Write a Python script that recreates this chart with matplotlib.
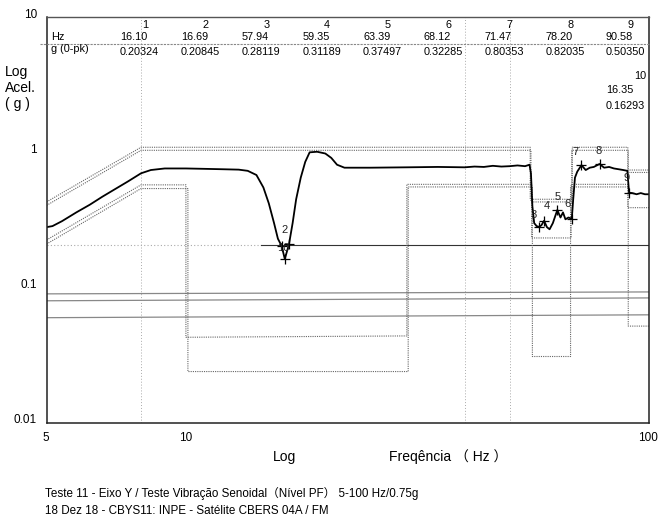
import numpy as np
import matplotlib
matplotlib.use("Agg")
import matplotlib.pyplot as plt

plt.rcParams['font.family'] = ['Liberation Sans', 'DejaVu Sans', 'Noto Sans CJK SC']

# response curve (Hz, g)
resp_hz = [5.0, 5.15, 5.4, 5.8, 6.2, 6.6, 7.0, 7.5, 8.0, 8.4, 9.0, 10.0, 11.0, 12.0, 13.0,
           13.6, 14.2, 14.7, 15.1, 15.5, 15.8, 16.1, 16.35, 16.69, 17.0, 17.3, 17.7, 18.1,
           18.5, 19.2, 20.0, 20.6, 21.2, 22.0, 25.0, 30.0, 35.0, 40.0, 42.0, 44.0, 46.0,
           48.0, 50.0, 52.0, 54.0, 55.2, 55.6, 56.0, 56.5, 57.2, 57.94, 58.6, 59.35, 60.2,
           61.0, 62.0, 63.39, 64.4, 65.2, 66.0, 67.0, 68.12, 68.6, 69.2, 70.0, 71.47, 73.0,
           74.5, 76.0, 78.2, 80.0, 82.0, 84.0, 86.0, 88.0, 89.8, 90.2, 90.58, 92.0, 94.0,
           96.0, 98.0, 100.0]
resp_g = [0.28, 0.285, 0.31, 0.36, 0.41, 0.47, 0.53, 0.61, 0.70, 0.74, 0.76, 0.76, 0.755, 0.75, 0.745,
          0.73, 0.68, 0.55, 0.42, 0.30, 0.23, 0.203, 0.163, 0.208, 0.30, 0.45, 0.65, 0.85,
          1.0, 1.01, 0.98, 0.91, 0.81, 0.77, 0.77, 0.775, 0.78, 0.775, 0.785, 0.78, 0.795,
          0.785, 0.79, 0.80, 0.79, 0.81, 0.70, 0.40, 0.30, 0.285, 0.281, 0.29, 0.312, 0.28,
          0.27, 0.30, 0.375, 0.33, 0.36, 0.32, 0.33, 0.323, 0.45, 0.65, 0.72, 0.804, 0.74,
          0.77, 0.78, 0.82, 0.77, 0.78, 0.76, 0.75, 0.74, 0.73, 0.60, 0.5035, 0.50, 0.49,
          0.50, 0.49, 0.49]

# tolerance profiles (Hz, g)
upper_hi_hz = [5, 8, 55.4, 55.4, 68.3, 68.3, 90, 90, 100]
upper_hi_g = [0.43, 1.09, 1.09, 0.45, 0.45, 1.09, 1.09, 0.74, 0.74]
upper_lo_hz = [5, 8, 55.6, 55.6, 68.1, 68.1, 90.2, 90.2, 100]
upper_lo_g = [0.405, 1.035, 1.035, 0.43, 0.43, 1.035, 1.035, 0.71, 0.71]
lower_hi_hz = [5, 8, 10, 10, 30, 30, 55.8, 55.8, 67.9, 67.9, 90, 90, 100]
lower_hi_g = [0.225, 0.575, 0.575, 0.043, 0.044, 0.58, 0.58, 0.233, 0.233, 0.58, 0.58, 0.39, 0.39]
lower_lo_hz = [5, 8, 10.1, 10.1, 30.2, 30.2, 56.0, 56.0, 67.7, 67.7, 90.2, 90.2, 100]
lower_lo_g = [0.21, 0.54, 0.54, 0.024, 0.024, 0.555, 0.555, 0.031, 0.031, 0.555, 0.555, 0.052, 0.052]

# straight reference lines (g at 5 Hz, g at 100 Hz)
ref_lines = [(0.090, 0.093), (0.080, 0.084), (0.060, 0.063)]
ref_020 = 0.205

grid_hz = [8, 40, 50]

# markers
marker_no = [1, 2, 3, 4, 5, 6, 7, 8, 9, 10]
marker_hz = [16.10, 16.69, 57.94, 59.35, 63.39, 68.12, 71.47, 78.20, 90.58, 16.35]
marker_g = [0.20324, 0.20845, 0.28119, 0.31189, 0.37497, 0.32285, 0.80353, 0.82035, 0.50350, 0.16293]

W, H = 669, 520
fig = plt.figure(figsize=(W / 100, H / 100), dpi=100)
fig.patch.set_facecolor('white')


def fx(x):
    return x / W


def fy(y):
    return 1 - y / H


ax = fig.add_axes([fx(46.5), fy(423), fx(649 - 46.5), (423 - 17) / H])
ax.set_xscale('log')
ax.set_yscale('log')
ax.set_xlim(5, 100)
ax.set_ylim(0.01, 10)
ax.set_xticks([])
ax.set_yticks([])
ax.minorticks_off()
ax.tick_params(which='both', length=0)
for s in ['left', 'bottom', 'right']:
    ax.spines[s].set_color('#222222')
    ax.spines[s].set_linewidth(1.1)
ax.spines['top'].set_color('#555555')
ax.spines['top'].set_linewidth(1.0)

# faint grid
for g in grid_hz:
    ax.axvline(g, color='#aaaaaa', lw=0.7, ls=(0, (1, 2)))

# reference lines
for a, b in ref_lines:
    ax.plot([5, 100], [a, b], color='#888888', lw=0.9)
ax.plot([5, 14.5], [ref_020, ref_020], color='#aaaaaa', lw=0.8, ls=(0, (1, 2)))
ax.plot([14.5, 100], [ref_020, ref_020], color='#333333', lw=0.8)

# tolerance profiles
for hz, g in [(upper_hi_hz, upper_hi_g), (upper_lo_hz, upper_lo_g),
              (lower_hi_hz, lower_hi_g), (lower_lo_hz, lower_lo_g)]:
    ax.plot(hz, g, color='#666666', lw=0.8, ls=(0, (1, 1)))

# response
ax.plot(resp_hz, resp_g, color='black', lw=1.3)

# markers
ax.plot(marker_hz, marker_g, ls='none', marker='+', ms=7, mew=0.9, color='black')
lab_off = {2: (-3, 7), 3: (-4, 5), 4: (2, 7), 5: (0, 6), 6: (-3, 7), 7: (-4, 6),
           8: (-1, 6), 9: (-2, 7), 10: (-1, 4)}
for n, h, g in zip(marker_no, marker_hz, marker_g):
    if n in lab_off:
        ax.annotate(str(n), (h, g), xytext=lab_off[n], textcoords='offset points',
                    ha='center', va='bottom', fontsize=8, color='#222222')

# table inside the plot
fig.add_artist(plt.Line2D([fx(40), fx(649)], [fy(44), fy(44)], color='#888888',
                          lw=0.8, ls=(0, (2, 1))))
fs_tab = 7.8
fig.text(fx(51), fy(37), 'Hz', fontsize=fs_tab, va='center')
fig.text(fx(51), fy(49), 'g (0-pk)', fontsize=fs_tab, va='center')
for i in range(9):
    x0 = 120 + 60.75 * i
    fig.text(fx(x0 + 28), fy(25), str(marker_no[i]), fontsize=fs_tab, va='center', ha='right')
    fig.text(fx(x0), fy(37), f'{marker_hz[i]:.2f}', fontsize=fs_tab, va='center')
    fig.text(fx(x0), fy(52), f'{marker_g[i]:.5f}', fontsize=fs_tab, va='center')
fig.text(fx(646), fy(76), str(marker_no[9]), fontsize=fs_tab, va='center', ha='right')
fig.text(fx(606), fy(90), f'{marker_hz[9]:.2f}', fontsize=fs_tab, va='center')
fig.text(fx(606), fy(106), f'{marker_g[9]:.5f}', fontsize=fs_tab, va='center')

# axis labels
for lab, y in [('10', 15), ('1', 150), ('0.1', 285), ('0.01', 420)]:
    fig.text(fx(37), fy(y), lab, fontsize=8.5, ha='right', va='center')
for lab, x in [('5', 46), ('10', 186), ('100', 648)]:
    fig.text(fx(x), fy(438), lab, fontsize=8.5, ha='center', va='center')
fig.text(fx(5), fy(72), 'Log', fontsize=10, va='center')
fig.text(fx(5), fy(88), 'Acel.', fontsize=10, va='center')
fig.text(fx(5), fy(104), '( g )', fontsize=10, va='center')
fig.text(fx(273), fy(457), 'Log', fontsize=10, va='center')
fig.text(fx(389), fy(457), 'Freqência （ Hz ）', fontsize=10, va='center')

fig.text(fx(45), fy(494), 'Teste 11 - Eixo Y / Teste Vibração Senoidal（Nível PF） 5-100 Hz/0.75g',
         fontsize=8.4, va='center')
fig.text(fx(45), fy(511), '18 Dez 18 - CBYS11: INPE - Satélite CBERS 04A / FM',
         fontsize=8.4, va='center')

fig.savefig('out.png', dpi=100, facecolor='white')
